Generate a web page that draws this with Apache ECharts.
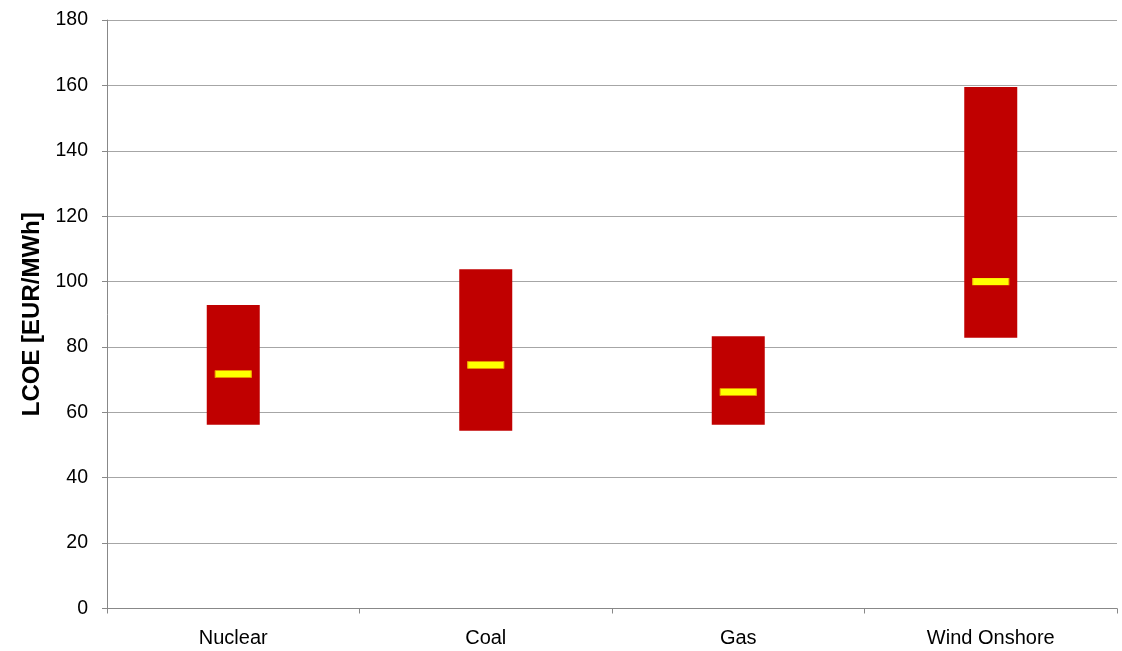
<!DOCTYPE html>
<html><head><meta charset="utf-8">
<script src="https://cdn.jsdelivr.net/npm/echarts@6/dist/echarts.min.js"></script>
<style>html,body{margin:0;padding:0;background:#fff}#c{width:1122px;height:651px}</style>
</head><body><div id="c"></div>
<script>
var categories = ['Nuclear', 'Coal', 'Gas', 'Wind Onshore'];
var lows = [56.2, 54.4, 56.2, 82.8];
var highs = [92.8, 103.8, 83.3, 159.5];
var means = [71.7, 74.5, 66.2, 100.0];
var yTicks = [0, 20, 40, 60, 80, 100, 120, 140, 160, 180];

var chart = echarts.init(document.getElementById('c'));
var font = 'Liberation Sans, Arial, sans-serif';
chart.setOption({
  animation: false,
  grid: {left: 107, right: 5, top: 20, bottom: 42.5, containLabel: false},
  xAxis: {
    type: 'category', data: categories,
    axisLine: {lineStyle: {color: '#888', width: 1}},
    axisTick: {show: true, length: 5, lineStyle: {color: '#888'}},
    axisLabel: {color: '#000', fontFamily: font, fontSize: 20, margin: 20}
  },
  yAxis: {
    type: 'value', min: yTicks[0], max: yTicks[yTicks.length - 1], interval: 20,
    name: 'LCOE [EUR/MWh]', nameLocation: 'middle', nameGap: 63,
    nameTextStyle: {color: '#000', fontFamily: font, fontSize: 24, fontWeight: 'bold'},
    axisLine: {show: true, lineStyle: {color: '#888', width: 1}},
    axisTick: {show: true, length: 5, lineStyle: {color: '#888'}},
    axisLabel: {color: '#000', fontFamily: font, fontSize: 19.5, margin: 19},
    splitLine: {lineStyle: {color: '#a6a6a6', width: 1}}
  },
  series: [
    {type: 'bar', stack: 'r', data: lows, itemStyle: {color: 'transparent'}, barWidth: 53, silent: true},
    {type: 'bar', stack: 'r', data: highs.map(function(h, i){ return +(h - lows[i]).toFixed(2); }),
      itemStyle: {color: '#C00000'}, barWidth: 53},
    {type: 'scatter', data: means, symbol: 'rect', symbolSize: [36, 7], z: 5,
      itemStyle: {color: '#FFFF00', opacity: 1, borderColor: '#F5B800', borderWidth: 0.5}}
  ]
});
</script></body></html>
